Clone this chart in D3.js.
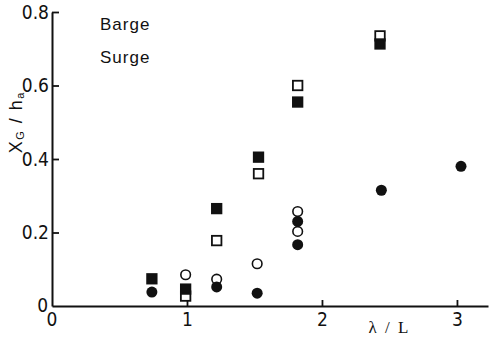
<!DOCTYPE html>
<html>
<head>
<meta charset="utf-8">
<script src="https://cdn.jsdelivr.net/npm/d3@7"></script>
<style>
  body { margin: 0; background: #fff; }
  svg { display: block; }
  .tick-label { font-family: "Liberation Sans Narrow", "DejaVu Sans Condensed", sans-serif; font-size: 19px; fill: #111; }
</style>
</head>
<body>
<div id="chart"></div>
<script>
// lambda / L values and X_G / h_a values
const openSqX = [0.99, 1.22, 1.53, 1.82, 2.43];
const openSqY = [0.027, 0.178, 0.36, 0.60, 0.735];
const fillSqX = [0.74, 0.99, 1.22, 1.53, 1.82, 2.43];
const fillSqY = [0.074, 0.046, 0.265, 0.405, 0.555, 0.713];
const openCircX = [0.99, 1.22, 1.52, 1.82, 1.82];
const openCircY = [0.085, 0.073, 0.115, 0.203, 0.257];
const fillCircX = [0.74, 1.22, 1.52, 1.82, 1.82, 2.44, 3.03];
const fillCircY = [0.038, 0.052, 0.035, 0.167, 0.23, 0.315, 0.38];

const xTicks = [1, 2, 3];
const yTicks = [0.2, 0.4, 0.6, 0.8];

const width = 491, height = 345;
const margin = { top: 12, right: 3, bottom: 39, left: 52 };

const svg = d3.select('#chart').append('svg')
  .attr('width', width)
  .attr('height', height);

const x = d3.scaleLinear().domain([0, 3.23]).range([margin.left, width - margin.right]);
const y = d3.scaleLinear().domain([0, 0.8]).range([height - margin.bottom, margin.top]);

// axes, ticks pointing inward
const xAxis = svg.append('g')
  .attr('transform', `translate(0,${y(0)})`)
  .call(d3.axisBottom(x).tickValues(xTicks).tickSizeInner(-6).tickSizeOuter(0).tickFormat(d3.format('d')).tickPadding(7));
const yAxis = svg.append('g')
  .attr('transform', `translate(${x(0)},0)`)
  .call(d3.axisLeft(y).tickValues(yTicks).tickSizeInner(-7).tickSizeOuter(0).tickFormat(d3.format('.1f')).tickPadding(3));

[xAxis, yAxis].forEach(g => {
  g.select('.domain').attr('stroke', '#111').attr('stroke-width', 2);
  g.selectAll('.tick line').attr('stroke', '#111').attr('stroke-width', 1.8);
  g.selectAll('.tick text').attr('class', 'tick-label').attr('font-family', null).attr('font-size', null);
});
xAxis.selectAll('.tick text').attr('dy', '0.71em');

// zero labels
svg.append('text').attr('class', 'tick-label')
  .attr('x', x(0) - 4).attr('y', y(0) + 6).attr('text-anchor', 'end').text('0');
svg.append('text').attr('class', 'tick-label')
  .attr('x', x(0)).attr('y', y(0) + 20).attr('text-anchor', 'middle').text('0');

// axis titles
const yTitle = svg.append('text')
  .attr('transform', `translate(22,${y(0.5)}) rotate(-90)`)
  .attr('text-anchor', 'middle')
  .attr('font-family', '"Liberation Sans", Arial, sans-serif')
  .attr('font-size', 18)
  .attr('letter-spacing', 1.5)
  .attr('fill', '#111');
yTitle.append('tspan').text('X');
yTitle.append('tspan').attr('font-size', 11).attr('dy', 2).text('G');
yTitle.append('tspan').attr('dy', -2).text(' / h');
yTitle.append('tspan').attr('font-size', 11).attr('dy', 2).text('a');

svg.append('text')
  .attr('x', x(2.5)).attr('y', y(0) + 27)
  .attr('text-anchor', 'middle')
  .attr('font-family', '"Liberation Serif", "Times New Roman", serif')
  .attr('font-size', 17)
  .attr('letter-spacing', 2)
  .attr('fill', '#111')
  .text('λ / L');

// legend text
svg.append('text')
  .attr('x', 100).attr('y', 30)
  .attr('font-family', '"Liberation Sans", Arial, sans-serif')
  .attr('font-size', 17).attr('letter-spacing', 1).attr('fill', '#111')
  .text('Barge');
svg.append('text')
  .attr('x', 100).attr('y', 63)
  .attr('font-family', '"Liberation Sans", Arial, sans-serif')
  .attr('font-size', 17).attr('letter-spacing', 1).attr('fill', '#111')
  .text('Surge');

// markers
const sq = 9.5;
const pts = (xs, ys) => xs.map((v, i) => ({ x: v, y: ys[i] }));

svg.append('g').selectAll('rect')
  .data(pts(openSqX, openSqY))
  .join('rect')
  .attr('x', d => x(d.x) - sq / 2).attr('y', d => y(d.y) - sq / 2)
  .attr('width', sq).attr('height', sq)
  .attr('fill', '#fff').attr('stroke', '#111').attr('stroke-width', 1.8);

svg.append('g').selectAll('rect')
  .data(pts(fillSqX, fillSqY))
  .join('rect')
  .attr('x', d => x(d.x) - sq / 2).attr('y', d => y(d.y) - sq / 2)
  .attr('width', sq).attr('height', sq)
  .attr('fill', '#111').attr('stroke', '#111').attr('stroke-width', 1.8);

svg.append('g').selectAll('circle')
  .data(pts(openCircX, openCircY))
  .join('circle')
  .attr('cx', d => x(d.x)).attr('cy', d => y(d.y)).attr('r', 4.8)
  .attr('fill', '#fff').attr('stroke', '#111').attr('stroke-width', 1.6);

svg.append('g').selectAll('circle')
  .data(pts(fillCircX, fillCircY))
  .join('circle')
  .attr('cx', d => x(d.x)).attr('cy', d => y(d.y)).attr('r', 5.5)
  .attr('fill', '#111');
</script>
</body>
</html>
